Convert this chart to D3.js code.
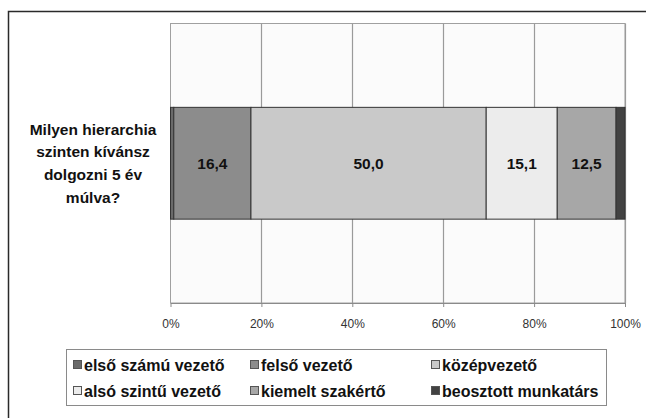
<!DOCTYPE html>
<html>
<head>
<meta charset="utf-8">
<script src="https://cdn.jsdelivr.net/npm/d3@7"></script>
<style>
  html, body { margin: 0; padding: 0; background: #fff; }
  svg { display: block; font-family: "Liberation Sans", Arial, sans-serif; }
</style>
</head>
<body>
<svg id="chart" width="646" height="418"></svg>
<script>
// Survey answer shares (percent) for one question, stacked to 100%
const question = ["Milyen hierarchia", "szinten kívánsz", "dolgozni 5 év", "múlva?"];
const categories = ["első számú vezető", "felső vezető", "középvezető", "alsó szintű vezető", "kiemelt szakértő", "beosztott munkatárs"];
const values = [0.7, 16.4, 50.0, 15.1, 12.5, 1.9];
const labelled = [false, true, true, true, true, false];
const colors = ["#6a6a6a", "#8c8c8c", "#c9c9c9", "#ececec", "#a7a7a7", "#424242"];
const tickValues = [0, 0.2, 0.4, 0.6, 0.8, 1.0];

const svg = d3.select("#chart");
const FONT = '"Liberation Sans", Arial, sans-serif';

// outer frame
svg.append("path")
  .attr("d", "M8.5,430 V11.5 H660")
  .attr("fill", "none").attr("stroke", "#2a2a2a").attr("stroke-width", 1.5);

const plot = { left: 170.5, right: 625, top: 23.5, bottom: 303 };

const x = d3.scaleLinear().domain([0, 1]).range([plot.left, plot.right]);
const y = d3.scaleBand().domain(["q"]).range([plot.top, plot.bottom]).paddingInner(0.6).paddingOuter(0.3);

// plot background
svg.append("rect")
  .attr("x", plot.left).attr("y", plot.top)
  .attr("width", plot.right - plot.left).attr("height", plot.bottom - plot.top)
  .attr("fill", "#fbfbfb").attr("stroke", "#a0a0a0").attr("stroke-width", 1);

// vertical gridlines
svg.append("g").selectAll("line")
  .data(tickValues.slice(1))
  .join("line")
  .attr("x1", d => Math.round(x(d)) + 0.5).attr("x2", d => Math.round(x(d)) + 0.5)
  .attr("y1", plot.top).attr("y2", plot.bottom)
  .attr("stroke", "#9a9a9a").attr("stroke-width", 1.2);

// bottom axis
const axis = d3.axisBottom(x)
  .tickValues(tickValues)
  .tickFormat(d => Math.round(d * 100) + "%")
  .tickSize(4).tickSizeOuter(0);
const gx = svg.append("g").attr("transform", `translate(0,${plot.bottom})`).call(axis);
gx.attr("font-family", FONT).attr("font-size", 12);
gx.select(".domain").attr("stroke", "#8a8a8a");
gx.selectAll(".tick line").attr("stroke", "#8a8a8a");
gx.selectAll(".tick text")
  .attr("y", 16)
  .style("fill", "#333");

// stacked bar (normalized to 100%)
const row = {};
categories.forEach((c, i) => row[c] = values[i]);
const stack = d3.stack().keys(categories).offset(d3.stackOffsetExpand)([row]);

const bars = svg.append("g");
bars.selectAll("rect")
  .data(stack)
  .join("rect")
  .attr("x", d => x(d[0][0]))
  .attr("y", y("q"))
  .attr("width", d => x(d[0][1]) - x(d[0][0]))
  .attr("height", y.bandwidth())
  .attr("fill", (d, i) => colors[i])
  .attr("stroke", "#333").attr("stroke-width", 1);

bars.selectAll("text")
  .data(stack.filter((d, i) => labelled[i]))
  .join("text")
  .attr("x", d => (x(d[0][0]) + x(d[0][1])) / 2)
  .attr("y", y("q") + y.bandwidth() / 2)
  .attr("dy", "0.35em")
  .attr("text-anchor", "middle")
  .attr("font-size", 15.5).attr("font-weight", "bold").attr("fill", "#111")
  .text(d => d3.format(".1f")(values[categories.indexOf(d.key)]).replace(".", ","));

// category label
const qy = y("q") + y.bandwidth() / 2;
svg.append("text")
  .attr("x", 93).attr("text-anchor", "middle")
  .attr("font-size", 15.5).attr("font-weight", "bold").attr("fill", "#111")
  .selectAll("tspan")
  .data(question)
  .join("tspan")
  .attr("x", 93)
  .attr("y", (d, i) => qy + (i - (question.length - 1) / 2) * 22.7)
  .attr("dy", "0.35em")
  .text(d => d);

// legend
const legend = svg.append("g");
legend.append("rect")
  .attr("x", 66.5).attr("y", 349.5).attr("width", 540).attr("height", 56)
  .attr("fill", "#fff").attr("stroke", "#8a8a8a").attr("stroke-width", 1);

const colX = [73, 250, 431];
const rowY = [365, 391];
const items = legend.selectAll("g.item")
  .data(categories)
  .join("g").attr("class", "item")
  .attr("transform", (d, i) => `translate(${colX[i % 3]},${rowY[Math.floor(i / 3)]})`);
items.append("rect")
  .attr("x", 0.5).attr("y", -4.5).attr("width", 8).attr("height", 8)
  .attr("fill", (d, i) => colors[i]).attr("stroke", "#555").attr("stroke-width", 1);
items.append("text")
  .attr("x", 11).attr("dy", "0.35em")
  .attr("font-size", 16).attr("font-weight", "bold").attr("fill", "#111")
  .text(d => d);
</script>
</body>
</html>
